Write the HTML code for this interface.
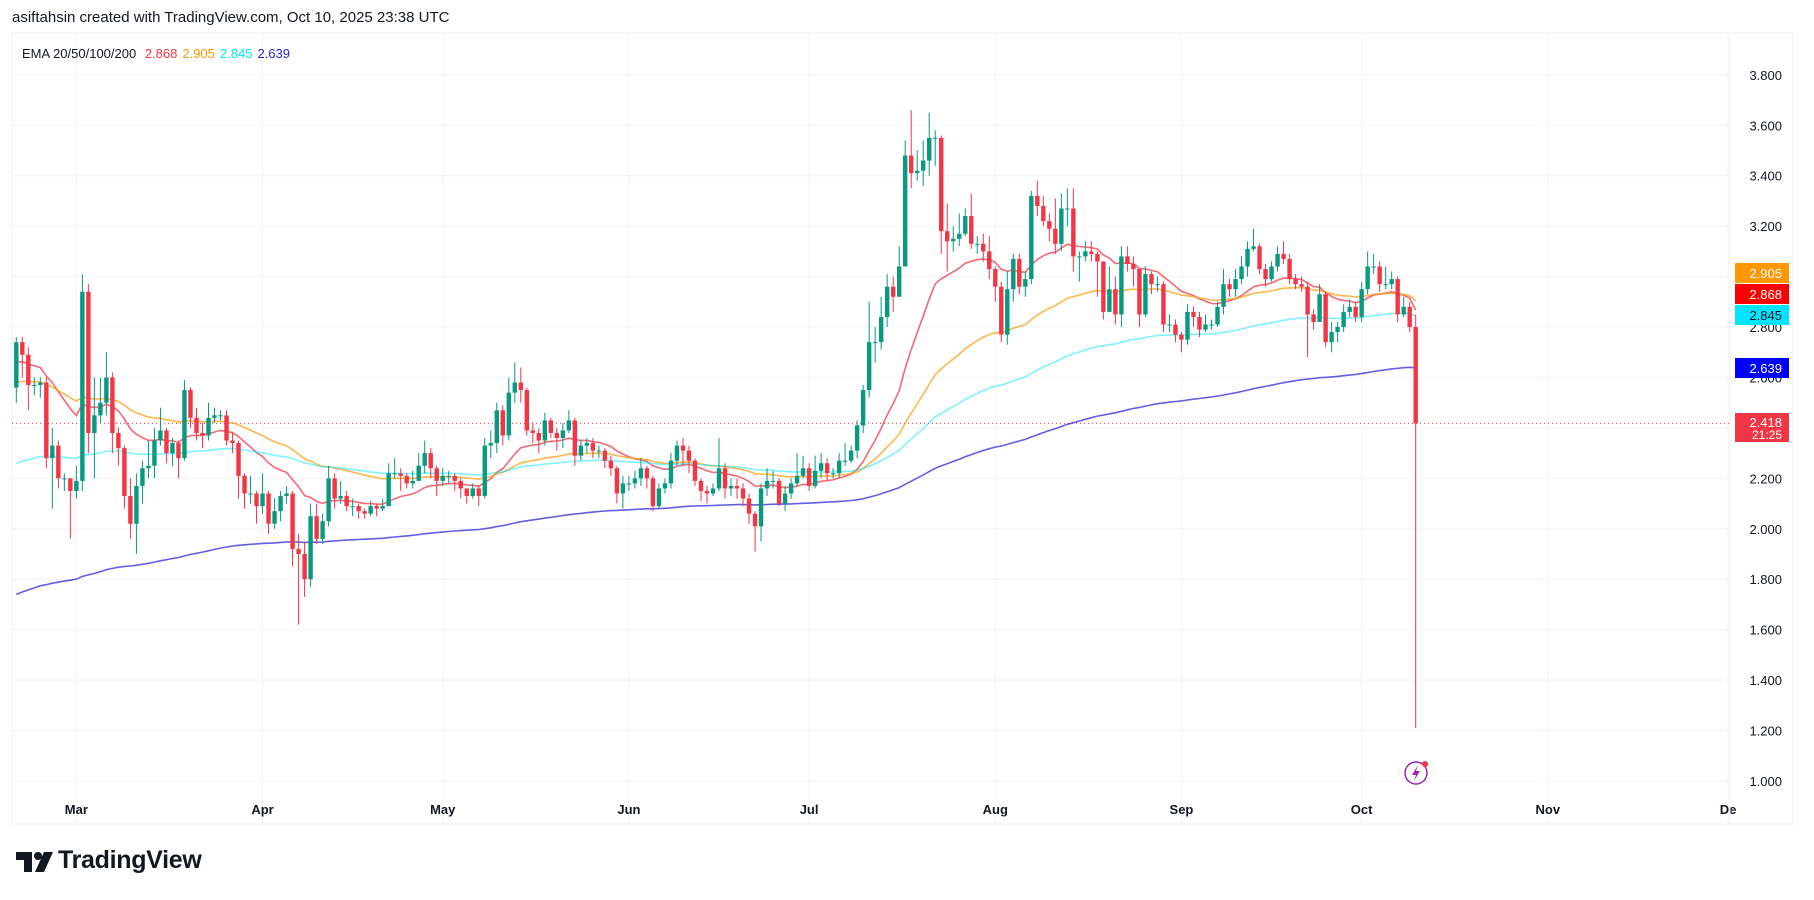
<!DOCTYPE html>
<html><head><meta charset="utf-8">
<style>
html,body{margin:0;padding:0;background:#fff;}
body{width:1814px;height:900px;position:relative;overflow:hidden;font-family:"Liberation Sans",sans-serif;}
#hdr{position:absolute;left:12px;top:9px;font-size:15px;color:#131722;}
#logo{position:absolute;left:16px;top:846px;font-size:25px;font-weight:bold;color:#131722;letter-spacing:-0.3px;}
svg{position:absolute;left:0;top:0;}
</style></head><body>
<div id="hdr">asiftahsin created with TradingView.com, Oct 10, 2025 23:38 UTC</div>
<svg id="chart" width="1814" height="900"></svg>
<div id="logo"><span style="display:inline-block;width:42px;"></span>TradingView</div>
<script>
const closes=[2.74,2.69,2.57,2.57,2.58,2.28,2.33,2.20,2.20,2.15,
2.19,2.94,2.38,2.45,2.50,2.60,2.38,2.32,2.13,2.02,2.17,2.24,2.25,2.35,2.39,2.30,2.34,2.28,2.55,2.44,2.38,2.37,2.44,2.45,2.45,2.35,2.34,2.21,2.14,2.14,2.09,
2.14,2.02,2.07,2.13,2.14,1.92,1.90,1.80,2.05,1.96,2.03,2.20,2.12,2.13,2.09,2.09,2.07,2.06,2.09,2.08,2.09,2.22,2.22,2.21,2.18,2.19,2.25,2.30,2.24,2.19,
2.21,2.21,2.19,2.16,2.13,2.16,2.13,2.33,2.34,2.47,2.37,2.54,2.58,2.55,2.39,2.38,2.35,2.43,2.38,2.36,2.39,2.43,2.29,2.33,2.34,2.31,2.31,2.27,2.24,2.14,2.18,
2.18,2.20,2.24,2.20,2.09,2.16,2.18,2.27,2.33,2.31,2.27,2.19,2.15,2.14,2.16,2.24,2.16,2.17,2.16,2.12,2.06,2.01,2.16,2.19,2.19,2.10,2.14,2.18,2.21,2.24,
2.17,2.23,2.26,2.22,2.22,2.27,2.27,2.31,2.41,2.55,2.74,2.74,2.84,2.96,2.92,3.04,3.48,3.41,3.42,3.46,3.55,3.55,3.18,3.14,3.15,3.17,3.24,3.13,3.13,3.10,3.03,
2.96,2.77,2.95,3.07,2.96,2.99,3.32,3.28,3.22,3.19,3.13,3.27,3.27,3.08,3.08,3.10,3.09,3.06,2.86,2.95,2.85,3.08,3.05,3.03,2.85,3.01,2.97,2.97,2.81,2.81,2.77,
2.75,2.86,2.84,2.79,2.81,2.81,2.88,2.97,2.95,2.99,3.04,3.11,3.12,3.03,2.99,3.04,3.09,3.07,2.99,2.97,2.96,2.85,2.82,2.93,2.74,2.78,2.80,2.86,2.88,2.84,
2.95,3.04,3.04,2.97,2.97,2.99,2.85,2.88,2.80,2.418];
const highs=[2.76,2.76,2.72,2.60,2.60,2.60,2.40,2.35,2.22,2.20,
2.25,3.01,2.97,2.60,2.60,2.70,2.62,2.40,2.33,2.20,2.22,2.27,2.35,2.40,2.48,2.40,2.36,2.35,2.59,2.56,2.48,2.42,2.50,2.48,2.47,2.47,2.38,2.35,2.22,2.21,2.15,
2.22,2.15,2.12,2.15,2.17,2.15,1.98,1.95,2.10,2.10,2.06,2.25,2.22,2.19,2.15,2.12,2.10,2.08,2.11,2.10,2.12,2.26,2.28,2.24,2.22,2.23,2.30,2.35,2.32,2.25,
2.24,2.23,2.22,2.20,2.16,2.18,2.17,2.36,2.39,2.50,2.49,2.60,2.66,2.64,2.56,2.42,2.40,2.46,2.44,2.40,2.42,2.47,2.44,2.35,2.36,2.36,2.33,2.32,2.29,2.25,2.21,
2.21,2.23,2.28,2.25,2.21,2.18,2.20,2.30,2.35,2.36,2.33,2.28,2.20,2.17,2.18,2.36,2.26,2.20,2.20,2.18,2.14,2.07,2.18,2.24,2.23,2.20,2.17,2.20,2.30,2.29,
2.26,2.29,2.30,2.28,2.24,2.30,2.34,2.33,2.43,2.57,2.90,2.80,2.92,3.01,3.00,3.12,3.54,3.66,3.50,3.54,3.65,3.58,3.56,3.29,3.20,3.25,3.27,3.33,3.16,3.17,3.16,
3.04,2.98,3.02,3.09,3.09,3.02,3.34,3.38,3.32,3.25,3.31,3.33,3.35,3.35,3.10,3.14,3.14,3.10,3.06,3.04,3.00,3.12,3.12,3.08,3.03,3.04,3.02,3.00,2.98,2.85,2.83,
2.78,2.89,2.88,2.86,2.85,2.83,2.90,3.03,2.99,3.03,3.08,3.14,3.19,3.13,3.05,3.06,3.12,3.14,3.09,3.01,3.00,2.98,2.87,2.97,2.94,2.82,2.82,2.89,2.91,2.90,
2.98,3.10,3.09,3.06,3.04,3.02,3.00,2.92,2.90,2.85];
const lows=[2.50,2.60,2.47,2.53,2.52,2.24,2.08,2.16,2.15,1.96,
2.12,2.15,2.30,2.20,2.42,2.45,2.30,2.25,2.08,1.96,1.90,2.10,2.20,2.20,2.33,2.26,2.25,2.20,2.27,2.40,2.35,2.32,2.35,2.42,2.43,2.33,2.30,2.12,2.08,2.10,2.02,
2.06,1.98,2.00,2.03,2.10,1.85,1.62,1.73,1.77,1.94,1.94,2.01,2.08,2.10,2.07,2.05,2.04,2.04,2.05,2.05,2.07,2.09,2.20,2.15,2.16,2.16,2.19,2.22,2.20,2.13,
2.17,2.18,2.15,2.12,2.10,2.12,2.09,2.12,2.28,2.30,2.33,2.35,2.50,2.50,2.37,2.34,2.30,2.33,2.36,2.31,2.32,2.38,2.25,2.27,2.30,2.28,2.28,2.24,2.21,2.10,2.08,
2.15,2.16,2.17,2.16,2.07,2.08,2.14,2.16,2.25,2.25,2.22,2.17,2.11,2.10,2.13,2.15,2.12,2.13,2.12,2.09,2.02,1.91,1.95,2.13,2.16,2.09,2.07,2.12,2.17,2.20,
2.15,2.16,2.20,2.19,2.20,2.20,2.25,2.26,2.28,2.38,2.52,2.66,2.71,2.80,2.86,2.93,3.10,3.35,3.38,3.36,3.40,3.44,3.09,3.02,3.10,3.12,3.16,3.11,3.09,3.06,2.99,
2.90,2.74,2.73,2.90,2.93,2.92,2.97,3.24,3.20,3.14,3.09,3.10,3.20,3.02,2.98,3.06,3.06,2.92,2.83,2.86,2.81,2.80,3.02,2.96,2.80,2.84,2.93,2.94,2.78,2.78,2.74,
2.70,2.73,2.80,2.76,2.78,2.79,2.80,2.85,2.92,2.92,2.97,3.00,3.10,3.01,2.96,2.98,3.02,3.05,2.97,2.95,2.94,2.68,2.79,2.82,2.72,2.70,2.74,2.78,2.84,2.82,
2.82,2.93,3.01,2.94,2.95,2.95,2.82,2.84,2.78,1.21];
const firstOpen=2.56;
const monthLabels=["Mar","Apr","May","Jun","Jul","Aug","Sep","Oct","Nov","De"];
const monthIdx=[10,41,71,102,132,163,194,224,255,285];
const priceTicks=[1.0,1.2,1.4,1.6,1.8,2.0,2.2,2.4,2.6,2.8,3.0,3.2,3.4,3.6,3.8];
const emaPeriods=[20,50,100,200];
const emaSeeds=[2.66,2.58,2.26,1.74];
const emaColors=["rgba(242,54,69,0.75)","rgba(255,152,0,0.7)","rgba(0,229,255,0.5)","rgba(63,52,220,0.8)"];
const emaNames=["ema-20-line","ema-50-line","ema-100-line","ema-200-line"];
const lastValues=["2.905","2.868","2.845","2.639"];

const NS="http://www.w3.org/2000/svg";
const svg=document.getElementById('chart');
const L=12,R=1730,T=33,B=824;
const y=p=>781-(p-1)*252.2;
const x=i=>16.3+6.006*i;
function mk(tag,attrs,parent){const e=document.createElementNS(NS,tag);for(const k in attrs)e.setAttribute(k,attrs[k]);(parent||svg).appendChild(e);return e;}

// panel
const panel=mk('rect',{x:L,y:T,width:1793-L,height:B-T,fill:'#fff',stroke:'#eef0f4'});

// grid
priceTicks.forEach(p=>{const g=mk('line',{x1:L,x2:R,y1:y(p),y2:y(p),stroke:'#f0f3fa'});

const t=mk('text',{x:1782,y:y(p)+5,'text-anchor':'end','font-size':13,fill:'#131722','font-family':'Liberation Sans, sans-serif'});t.textContent=p.toFixed(3);
});
monthIdx.forEach((m,k)=>{const g=mk('line',{x1:x(m),x2:x(m),y1:T,y2:B,stroke:'#f0f3fa'});

const t=mk('text',{x:x(m),y:814,'text-anchor':'middle','font-size':13,'font-weight':'bold',fill:'#131722','font-family':'Liberation Sans, sans-serif'});t.textContent=monthLabels[k];
});
const ax=mk('line',{x1:R,x2:R,y1:T,y2:B,stroke:'#eef0f4'});


// current price line
const last=closes[closes.length-1];
const pl=mk('line',{x1:L,x2:R,y1:y(last),y2:y(last),stroke:'#f23645','stroke-dasharray':'1,3','stroke-width':1});


// EMA lines
emaPeriods.forEach((n,k)=>{const a=2/(n+1);let e=emaSeeds[k];const pts=[];
closes.forEach((c,i)=>{if(i>0)e=e+a*(c-e);pts.push(x(i).toFixed(1)+','+y(e).toFixed(1));});
const pln=mk('polyline',{points:pts.join(' '),fill:'none',stroke:emaColors[k],'stroke-width':1.6});
});

// candles
closes.forEach((c,i)=>{const o=i===0?firstOpen:closes[i-1];const up=c>=o;const col=up?'#089981':'#f23645';
const g=mk('g',{});

mk('line',{x1:x(i),x2:x(i),y1:y(highs[i]),y2:y(lows[i]),stroke:col,'stroke-width':1},g);
const top=y(Math.max(o,c)),bot=y(Math.min(o,c));
mk('rect',{x:x(i)-2.2,y:top,width:4.4,height:Math.max(1,bot-top),fill:col},g);});

// legend
const lg=mk('text',{x:22,y:58,'font-size':13,fill:'#131722','font-family':'Liberation Sans, sans-serif'});

const ts=mk('tspan',{},lg);ts.textContent='EMA 20/50/100/200 ';
const legVals=["2.868","2.905","2.845","2.639"],legCols=["#f23645","#ff9800","#00e5ff","#2a25d8"];
legVals.forEach((v,k)=>{const s=mk('tspan',{fill:legCols[k],dx:5},lg);s.textContent=v;});

// price tags
const tagY=[2.905,2.868,2.845,2.639];
const tagFill=["#ff9800","#ff0000","#00e5ff","#0000ff"],tagText=["#fff","#fff","#131722","#fff"];
const tagPos=[273,294,315,368];
tagY.forEach((p,k)=>{const g=mk('g',{});
mk('rect',{x:1735,y:tagPos[k]-10,width:54,height:20,fill:tagFill[k]},g);
const t=mk('text',{x:1782,y:tagPos[k]+5,'text-anchor':'end','font-size':13,fill:tagText[k],'font-family':'Liberation Sans, sans-serif'},g);t.textContent=lastValues[k];});
const cg=mk('g',{});
mk('rect',{x:1735,y:413,width:54,height:29,fill:'#f23645'},cg);
const t1=mk('text',{x:1782,y:427,'text-anchor':'end','font-size':13,fill:'#fff','font-family':'Liberation Sans, sans-serif'},cg);t1.textContent=last.toFixed(3);
const t2=mk('text',{x:1782,y:439,'text-anchor':'end','font-size':12,fill:'#fff','font-family':'Liberation Sans, sans-serif'},cg);t2.textContent='21:25';

// lightning icon
const ig=mk('g',{});
mk('circle',{cx:1416,cy:773,r:11,fill:'#fff',stroke:'#9c27b0','stroke-width':1.5},ig);
mk('path',{d:'M1418 765 L1412 775 L1416 775 L1414 781 L1420 771 L1416 771 Z',fill:'#9c27b0'},ig);
mk('circle',{cx:1425,cy:764,r:3,fill:'#f23645'},ig);

// logo mark
const lm=mk('g',{});
mk('path',{d:'M16 852 H32 V872 H24 V860 H16 Z',fill:'#131722'},lm);
mk('circle',{cx:38,cy:856,r:4,fill:'#131722'},lm);
mk('path',{d:'M44 852 H53 L44 872 H35 Z',fill:'#131722'},lm);
</script>
</body></html>
